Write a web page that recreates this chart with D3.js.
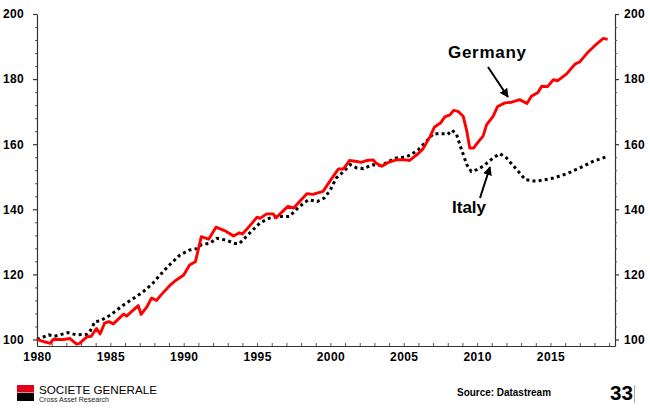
<!DOCTYPE html>
<html><head><meta charset="utf-8">
<script src="https://cdn.jsdelivr.net/npm/d3@7"></script>
<style>body{margin:0;background:#fff}svg{display:block}text{font-family:"Liberation Sans",Arial,sans-serif}</style>
</head><body><svg id="c" width="650" height="411"></svg>
<script>
const germanyYears=[1980.0,1980.5,1980.9,1981.1,1981.8,1982.25,1982.7,1982.9,1983.4,1983.7,1984.05,1984.3,1984.6,1984.9,1985.2,1985.9,1986.1,1986.9,1987.1,1987.5,1987.8,1988.15,1988.4,1989.1,1989.5,1990.0,1990.4,1990.8,1991.2,1991.7,1992.2,1992.9,1993.4,1993.8,1994.0,1994.5,1995.0,1995.2,1995.65,1996.1,1996.3,1996.8,1997.1,1997.5,1997.9,1998.4,1998.8,1999.5,2000.0,2000.55,2000.9,2001.3,2001.8,2002.1,2002.5,2002.9,2003.1,2003.5,2003.95,2004.5,2005.1,2005.4,2005.9,2006.3,2006.8,2007.1,2007.5,2007.8,2008.15,2008.4,2008.7,2009.05,2009.3,2009.5,2009.75,2010.2,2010.4,2010.65,2011.1,2011.4,2011.9,2012.35,2012.9,2013.4,2013.7,2014.15,2014.4,2014.8,2015.2,2015.5,2016.1,2016.7,2017.0,2017.5,2018.05,2018.6,2018.9];
const germanyValues=[100,99.3,98.8,100,100,100.3,98.6,98.8,100.8,101,103.4,101.7,105,105.5,104.8,107.8,107.2,110.4,107.7,110.1,112.7,112,113.4,116.8,118.3,119.8,122.9,123.9,131.6,130.8,134.5,133.2,131.8,132.8,132.4,134.9,137.6,137.2,138.6,138.6,137.4,139.6,140.9,140.4,142.4,144.8,144.6,145.5,148.9,152.4,152.4,155,154.7,154.4,155,155.2,154.2,153.2,154.4,155.2,155.2,155,156.8,158.5,162.4,165.3,166.5,168.4,169,170.4,170.1,168.6,164,158.8,158.8,161.4,162.4,166,168.6,171.6,172.7,172.9,173.7,172.5,174.7,175.9,177.8,177.7,179.8,179.5,181.6,184.7,185.3,188,190.4,192.5,192.2];
const italyYears=[1980.0,1980.8,1981.2,1982.1,1982.7,1983.4,1983.6,1983.95,1984.3,1985.0,1985.9,1986.6,1987.25,1987.9,1988.6,1989.1,1989.75,1990.4,1990.9,1991.2,1991.8,1992.25,1992.9,1993.5,1993.8,1994.5,1995.2,1995.85,1996.5,1997.2,1997.9,1998.5,1999.1,1999.6,2000.0,2000.4,2000.9,2001.35,2001.8,2002.25,2002.9,2003.5,2003.95,2004.5,2005.1,2005.5,2006.0,2006.55,2007.0,2007.7,2008.0,2008.3,2008.6,2008.9,2009.3,2009.6,2010.0,2010.4,2011.1,2011.55,2012.0,2012.7,2013.3,2014.05,2015.2,2016.1,2017.0,2017.9,2018.85];
const italyValues=[100,101.4,101,102.1,101.4,101.6,102.4,105.5,105.7,107.5,110.6,112.7,114.7,117.3,120.9,123.2,126,127.5,127.9,129.1,129.6,131.1,130.5,129.5,129.5,132.7,135.8,137.3,137.8,137.8,140.9,142.9,142.4,143.5,146,149.6,151.6,153.7,152.7,152.5,153.7,153.4,154.7,155.8,156,156.8,158.3,160.9,163.2,163.2,163,164.3,163,158.8,153.7,151.6,152.2,153.2,155.8,157.1,155.8,152.2,149.1,148.6,149.6,150.9,152.7,154.7,156.2];
const yTickLabels=[100,120,140,160,180,200];
const xTickLabels=[1980,1985,1990,1995,2000,2005,2010,2015];

const svg=d3.select("#c");
const x=d3.scaleLinear().domain([1980,2019.4]).range([37,615]);
const y=d3.scaleLinear().domain([98,200]).range([346,14]);

const yMinor=d3.range(104,200,4).filter(v=>v%20!==0);
function yAxis(g,side){
  const ax=(side==="left"?d3.axisLeft(y):d3.axisRight(y)).tickValues(yTickLabels).tickSize(4).tickSizeOuter(0).tickPadding(side==="left"?9:5).tickFormat(d3.format("d"));
  g.call(ax);
  g.select(".domain").attr("stroke","#333").attr("stroke-width",1.2);
  g.selectAll(".tick line").attr("stroke","#333").attr("stroke-width",1.2);
  g.selectAll("text").attr("font-size","12px").attr("font-weight","bold").attr("fill","#000").attr("letter-spacing","0.3px");
  const m=(side==="left"?d3.axisLeft(y):d3.axisRight(y)).tickValues(yMinor).tickSize(2).tickFormat("");
  const gm=g.append("g").call(m);
  gm.select(".domain").remove();
  gm.selectAll(".tick line").attr("stroke","#555").attr("stroke-width",1);
}
svg.append("g").attr("transform","translate(37,0)").call(g=>yAxis(g,"left"));
svg.append("g").attr("transform","translate(615,0)").call(g=>yAxis(g,"right"));

const gx=svg.append("g").attr("transform","translate(0,346)");
gx.call(d3.axisBottom(x).tickValues(xTickLabels).tickSize(0).tickPadding(6).tickFormat(d3.format("d")));
gx.select(".domain").attr("stroke","#333").attr("stroke-width",1.2);
gx.selectAll("text").attr("font-size","12px").attr("font-weight","bold").attr("fill","#000").attr("letter-spacing","0.4px");
const gxm=svg.append("g").attr("transform","translate(0,346)");
gxm.call(d3.axisTop(x).tickValues(d3.range(1981,2020,1)).tickSize(3).tickFormat(""));
gxm.select(".domain").remove();
gxm.selectAll(".tick line").attr("stroke","#555").attr("stroke-width",1);

const line=d3.line().x(d=>x(d[0])).y(d=>y(d[1])).curve(d3.curveLinear);
const italy=italyYears.map((t,i)=>[t,italyValues[i]]);
const germany=germanyYears.map((t,i)=>[t,germanyValues[i]]);
svg.append("path").datum(italy).attr("d",line).attr("fill","none").attr("stroke","#000").attr("stroke-width",3).attr("stroke-dasharray","3 3.2");
svg.append("path").datum(germany).attr("d",line).attr("fill","none").attr("stroke","#f00").attr("stroke-width",2.9).attr("stroke-linejoin","round");

const defs=svg.append("defs");
defs.append("marker").attr("id","ah").attr("viewBox","0 0 10 10").attr("refX",9).attr("refY",5)
  .attr("markerWidth",4.5).attr("markerHeight",4.5).attr("orient","auto")
  .append("path").attr("d","M0,0L10,5L0,10Z").attr("fill","#000");
svg.append("text").attr("x",448).attr("y",58).attr("font-size","17px").attr("font-weight","bold").attr("textLength",78).attr("lengthAdjust","spacing").text("Germany");
svg.append("line").attr("x1",488).attr("y1",67).attr("x2",508).attr("y2",97).attr("stroke","#000").attr("stroke-width",2).attr("marker-end","url(#ah)");
svg.append("text").attr("x",452).attr("y",213).attr("font-size","17px").attr("font-weight","bold").text("Italy");
svg.append("line").attr("x1",480).attr("y1",198).attr("x2",490).attr("y2",167).attr("stroke","#000").attr("stroke-width",2).attr("marker-end","url(#ah)");

svg.append("rect").attr("x",17).attr("y",385).attr("width",17).attr("height",7.5).attr("fill","#e2001a");
svg.append("rect").attr("x",17).attr("y",393).attr("width",17).attr("height",8).attr("fill","#000");
svg.append("text").attr("x",39).attr("y",393.5).attr("font-size","11.3px").attr("textLength",118).attr("lengthAdjust","spacingAndGlyphs").text("SOCIETE GENERALE");
svg.append("text").attr("x",39).attr("y",401.5).attr("font-size","8px").attr("fill","#222").attr("textLength",70).attr("lengthAdjust","spacingAndGlyphs").text("Cross Asset Research");
svg.append("text").attr("x",457).attr("y",396).attr("font-size","11px").attr("font-weight","bold").attr("textLength",94).attr("lengthAdjust","spacingAndGlyphs").text("Source: Datastream");
svg.append("text").attr("x",610).attr("y",399.5).attr("font-size","21px").attr("font-weight","bold").attr("textLength",23).attr("lengthAdjust","spacingAndGlyphs").text("33");
svg.append("line").attr("x1",634.5).attr("y1",385).attr("x2",634.5).attr("y2",403).attr("stroke","#aaa").attr("stroke-width",1);
</script></body></html>
